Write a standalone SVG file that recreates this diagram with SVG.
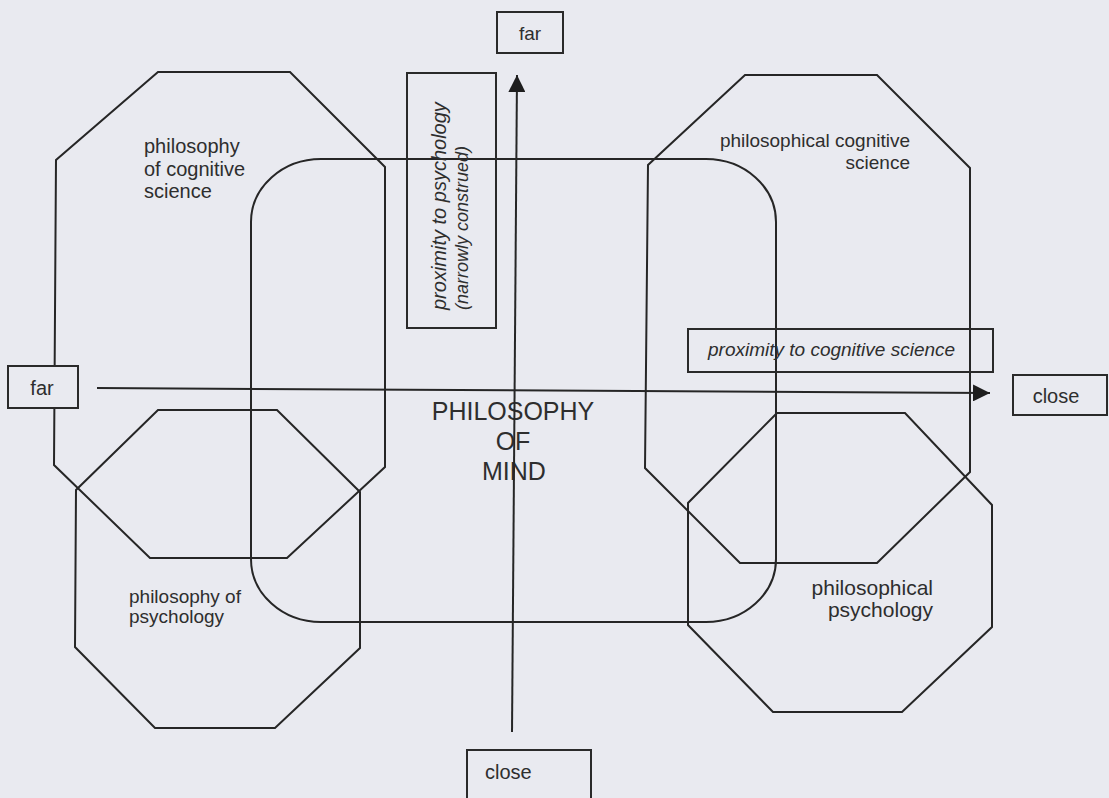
<svg xmlns="http://www.w3.org/2000/svg" width="1109" height="798" viewBox="0 0 1109 798">
  <defs>
    <style>
      .shape { fill: none; stroke: #262626; stroke-width: 2; stroke-linejoin: miter; }
      .box { fill: none; stroke: #2a2a2a; stroke-width: 2; }
      .solid { fill: #e9eaf0; }
      .axis { fill: none; stroke: #262626; stroke-width: 2; }
      .lbl { font-family: "Liberation Sans", Arial, sans-serif; fill: #2e2e2e; }
      .it { font-style: italic; }
    </style>
    <marker id="head" viewBox="0 0 10 10" refX="10" refY="5" markerWidth="17" markerHeight="17" markerUnits="userSpaceOnUse" orient="auto">
      <path d="M0,0 L10,5 L0,10 Z" fill="#1e1e1e"/>
    </marker>
  </defs>

  <rect x="0" y="0" width="1109" height="798" fill="#e9eaf0"/>

  <!-- Regions -->
  <g id="philosophy-of-cognitive-science">
    <polygon class="shape" points="158,72 290,72 385,167 385,467 287,558 150,558 54,465 56,160"/>
    <text class="lbl" font-size="20" x="144" y="153">philosophy</text>
    <text class="lbl" font-size="20" x="144" y="176">of cognitive</text>
    <text class="lbl" font-size="20" x="144" y="198">science</text>
  </g>

  <g id="philosophy-of-psychology">
    <polygon class="shape" points="158,410 277,410 360,492 360,648 275,728 155,728 75,647 76,490"/>
    <text class="lbl" font-size="19" x="129" y="603">philosophy of</text>
    <text class="lbl" font-size="19" x="129" y="623">psychology</text>
  </g>

  <g id="philosophical-cognitive-science">
    <polygon class="shape" points="745,75 877,75 970,168 970,472 877,563 740,563 645,468 648,165"/>
    <text class="lbl" font-size="19" x="910" y="147" text-anchor="end">philosophical cognitive</text>
    <text class="lbl" font-size="19" x="910" y="169" text-anchor="end">science</text>
  </g>

  <g id="philosophical-psychology">
    <polygon class="shape" points="777,413 905,413 992,505 992,627 902,712 773,712 688,625 688,503"/>
    <text class="lbl" font-size="21" x="933" y="595" text-anchor="end">philosophical</text>
    <text class="lbl" font-size="21" x="933" y="617" text-anchor="end">psychology</text>
  </g>

  <g id="philosophy-of-mind">
    <rect class="shape" x="251" y="159" width="525" height="463" rx="70" ry="63"/>
    <text class="lbl" font-size="25" x="513" y="420" text-anchor="middle">PHILOSOPHY</text>
    <text class="lbl" font-size="25" x="513" y="450" text-anchor="middle">OF</text>
    <text class="lbl" font-size="25" x="514" y="480" text-anchor="middle">MIND</text>
  </g>

  <!-- Axes -->
  <g id="connectors">
    <line class="axis" x1="97" y1="388" x2="990" y2="393" marker-end="url(#head)"/>
    <line class="axis" x1="512" y1="732" x2="517" y2="75" marker-end="url(#head)"/>
  </g>

  <!-- Axis end labels -->
  <g id="label-far-left">
    <rect class="box solid" x="8" y="366" width="70" height="42"/>
    <text class="lbl" font-size="20" x="42" y="395" text-anchor="middle">far</text>
  </g>
  <g id="label-close-right">
    <rect class="box" x="1013" y="375" width="94" height="40"/>
    <text class="lbl" font-size="20" x="1056" y="403" text-anchor="middle">close</text>
  </g>
  <g id="label-far-top">
    <rect class="box" x="497" y="12" width="66" height="41"/>
    <text class="lbl" font-size="19" x="530" y="40" text-anchor="middle">far</text>
  </g>
  <g id="label-close-bottom">
    <rect class="box" x="467" y="750" width="124" height="52"/>
    <text class="lbl" font-size="20" x="485" y="779">close</text>
  </g>

  <!-- Axis captions -->
  <g id="caption-psychology">
    <rect class="box" x="407" y="73" width="89" height="255"/>
    <text class="lbl it" font-size="20" transform="translate(446,310) rotate(-90)">proximity to psychology</text>
    <text class="lbl it" font-size="18" transform="translate(468,310) rotate(-90)">(narrowly construed)</text>
  </g>
  <g id="caption-cognitive-science">
    <rect class="box" x="688" y="329" width="305" height="43"/>
    <text class="lbl it" font-size="19" x="708" y="356">proximity to cognitive science</text>
  </g>
</svg>
